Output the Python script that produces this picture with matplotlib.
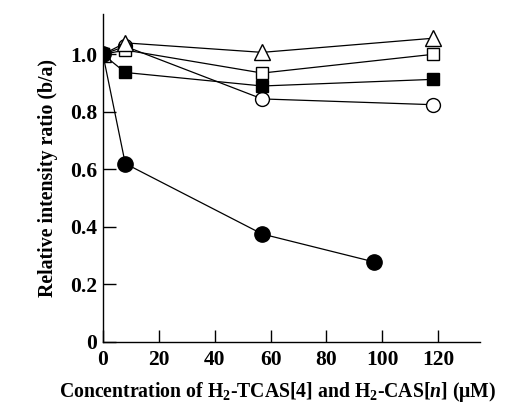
import matplotlib
matplotlib.use("Agg")
import matplotlib.pyplot as plt

plt.rcParams['font.family'] = 'Liberation Serif'
plt.rcParams['font.weight'] = 'bold'
plt.rcParams['mathtext.fontset'] = 'custom'
plt.rcParams['mathtext.rm'] = 'Liberation Serif:bold'
plt.rcParams['mathtext.it'] = 'Liberation Serif:italic:bold'
plt.rcParams['mathtext.bf'] = 'Liberation Serif:bold'

# concentration (uM)
x_common = [0, 8, 57, 118]
x_filled_circle = [0, 8, 57, 97]

# relative intensity ratio (b/a)
filled_circle = [1.0, 0.62, 0.375, 0.278]
open_triangle = [1.0, 1.04, 1.007, 1.056]
open_square = [1.0, 1.015, 0.935, 1.0]
filled_square = [1.0, 0.937, 0.89, 0.913]
open_circle = [1.0, 1.028, 0.845, 0.825]

x_ticks = [0, 20, 40, 60, 80, 100, 120]
y_ticks = [0, 0.2, 0.4, 0.6, 0.8, 1.0]
y_tick_labels = ['0', '0.2', '0.4', '0.6', '0.8', '1.0']

fig = plt.figure(figsize=(5.07, 4.04), dpi=100)
ax = fig.add_axes([0.203, 0.154, 0.744, 0.811])

line_kw = dict(color='black', lw=0.9)
ax.plot(x_common, open_circle, marker='o', ms=10, mfc='white', mec='black', mew=1, **line_kw)
ax.plot(x_common, filled_square, marker='s', ms=8.5, mfc='black', mec='black', **line_kw)
ax.plot(x_common, open_square, marker='s', ms=9, mfc='white', mec='black', mew=1, **line_kw)
ax.plot(x_common, open_triangle, marker='^', ms=12, mfc='white', mec='black', mew=1, **line_kw)
ax.plot(x_filled_circle, filled_circle, marker='o', ms=11, mfc='black', mec='black', **line_kw)

ax.set_xlim(0, 135)
ax.set_ylim(0, 1.14)
ax.set_xticks(x_ticks)
ax.set_yticks(y_ticks)
ax.set_yticklabels(y_tick_labels)

for loc in ['top', 'right']:
    ax.spines[loc].set_visible(False)
for loc in ['left', 'bottom']:
    ax.spines[loc].set_linewidth(1.0)

ax.tick_params(direction='in', length=9, width=1, labelsize=15.5)
ax.tick_params(axis='x', pad=6)
ax.tick_params(axis='y', pad=4)

ax.set_xlabel('Concentration of H$_2$-TCAS[4] and H$_2$-CAS[$n$] (\u03bcM)',
              fontsize=14.2, fontweight='bold')
ax.xaxis.set_label_coords(0.464, -0.116)
ax.set_ylabel('Relative intensity ratio (b/a)', fontsize=14.3, fontweight='bold', labelpad=9)

fig.savefig('out.png', dpi=100)
